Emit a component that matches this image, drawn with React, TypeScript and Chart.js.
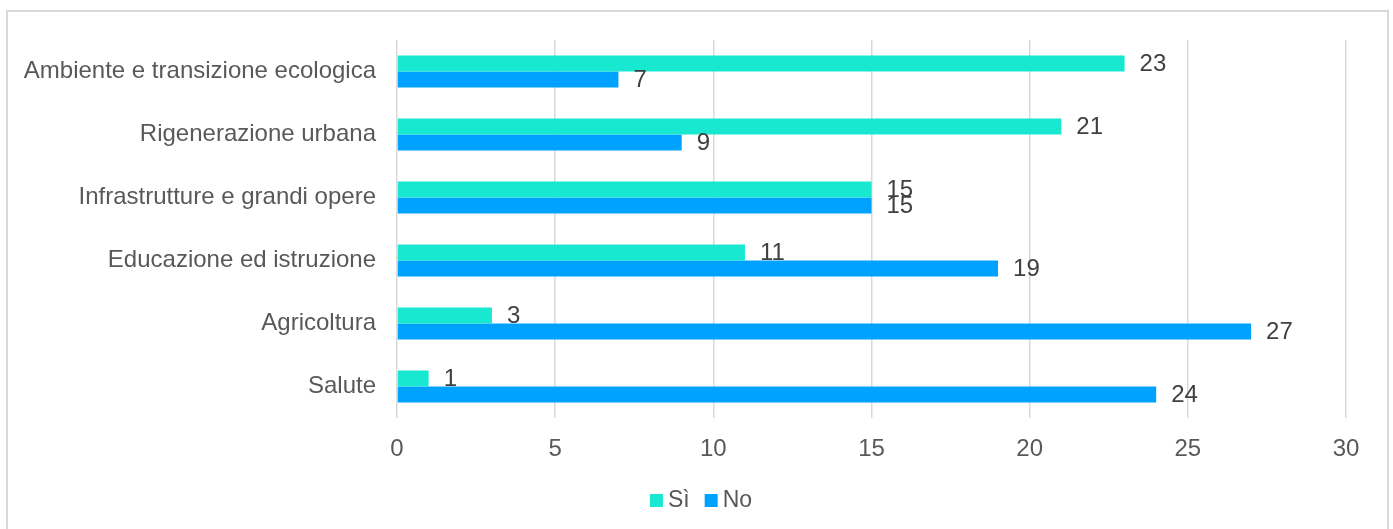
import React, { useEffect, useRef } from "react";
import { Chart, registerables } from "chart.js";

Chart.register(...registerables);

const categories = [
  "Ambiente e transizione ecologica",
  "Rigenerazione urbana",
  "Infrastrutture e grandi opere",
  "Educazione ed istruzione",
  "Agricoltura",
  "Salute",
];
const siValues = [23, 21, 15, 11, 3, 1];
const noValues = [7, 9, 15, 19, 27, 24];
const xTicks = [0, 5, 10, 15, 20, 25, 30];

const FONT = "'Liberation Sans', Arial, sans-serif";

const valueLabels = {
  id: "valueLabels",
  afterDatasetsDraw(chart: any) {
    const ctx = chart.ctx;
    ctx.save();
    ctx.font = `24px ${FONT}`;
    ctx.fillStyle = "#404040";
    ctx.textAlign = "left";
    ctx.textBaseline = "middle";
    chart.data.datasets.forEach((ds: any, di: number) => {
      const meta = chart.getDatasetMeta(di);
      meta.data.forEach((el: any, i: number) => {
        ctx.fillText(String(ds.data[i]), el.x + 15, el.y + 1);
      });
    });
    ctx.restore();
  },
};

const bottomLegend = {
  id: "bottomLegend",
  afterDraw(chart: any) {
    const ctx = chart.ctx;
    ctx.save();
    ctx.font = `23px ${FONT}`;
    ctx.textBaseline = "middle";
    ctx.textAlign = "left";
    const box = 13;
    const gap = 5;
    const itemGap = 15;
    const items = chart.data.datasets.map((ds: any) => ({
      label: ds.label,
      color: ds.backgroundColor,
      w: ctx.measureText(ds.label).width,
    }));
    const total =
      items.reduce((s: number, it: any) => s + box + gap + it.w, 0) + itemGap * (items.length - 1);
    let x = 701 - total / 2;
    const cy = 500.5;
    items.forEach((it: any) => {
      ctx.fillStyle = it.color;
      ctx.fillRect(x, cy - box / 2, box, box);
      x += box + gap;
      ctx.fillStyle = "#595959";
      ctx.fillText(it.label, x, cy);
      x += it.w + itemGap;
    });
    ctx.restore();
  },
};

export default function App() {
  const ref = useRef<HTMLCanvasElement>(null);
  useEffect(() => {
    if (!ref.current) return;
    const chart = new Chart(ref.current, {
      type: "bar",
      data: {
        labels: categories,
        datasets: [
          {
            label: "Sì",
            data: siValues,
            backgroundColor: "#19E8D0",
            categoryPercentage: 0.508,
            barPercentage: 1,
          },
          {
            label: "No",
            data: noValues,
            backgroundColor: "#00A2FF",
            categoryPercentage: 0.508,
            barPercentage: 1,
          },
        ],
      },
      options: {
        indexAxis: "y",
        animation: false,
        responsive: false,
        maintainAspectRatio: false,
        layout: { padding: { top: 40, right: 47, left: 0, bottom: 51 } },
        plugins: {
          tooltip: { enabled: false },
          legend: { display: false },
        },
        scales: {
          x: {
            min: 0,
            max: 30,
            afterBuildTicks(scale: any) {
              scale.ticks = xTicks.map((v) => ({ value: v }));
            },
            afterFit(scale: any) {
              scale.height = 60;
            },
            grid: { color: "#d9d9d9", lineWidth: 1.5, drawTicks: false },
            border: { display: false },
            ticks: {
              padding: 17,
              color: "#595959",
              font: { family: FONT, size: 24 },
            },
          },
          y: {
            afterFit(scale: any) {
              scale.width = 397;
            },
            grid: { display: false, drawTicks: false },
            border: { display: false },
            ticks: {
              padding: 21,
              color: "#595959",
              font: { family: FONT, size: 24 },
            },
          },
        },
      },
      plugins: [valueLabels, bottomLegend],
    } as any);
    return () => chart.destroy();
  }, []);
  return (
    <div style={{ position: "fixed", left: 0, top: 0, width: 1393, height: 529, overflow: "hidden", background: "#fff" }}>
      <div
        style={{
          position: "absolute",
          left: 6,
          top: 10,
          width: 1383,
          height: 560,
          boxSizing: "border-box",
          border: "2px solid #d9d9d9",
        }}
      />
      <canvas ref={ref} width={1393} height={529} style={{ position: "absolute", left: 0, top: 0, width: 1393, height: 529 }} />
    </div>
  );
}
